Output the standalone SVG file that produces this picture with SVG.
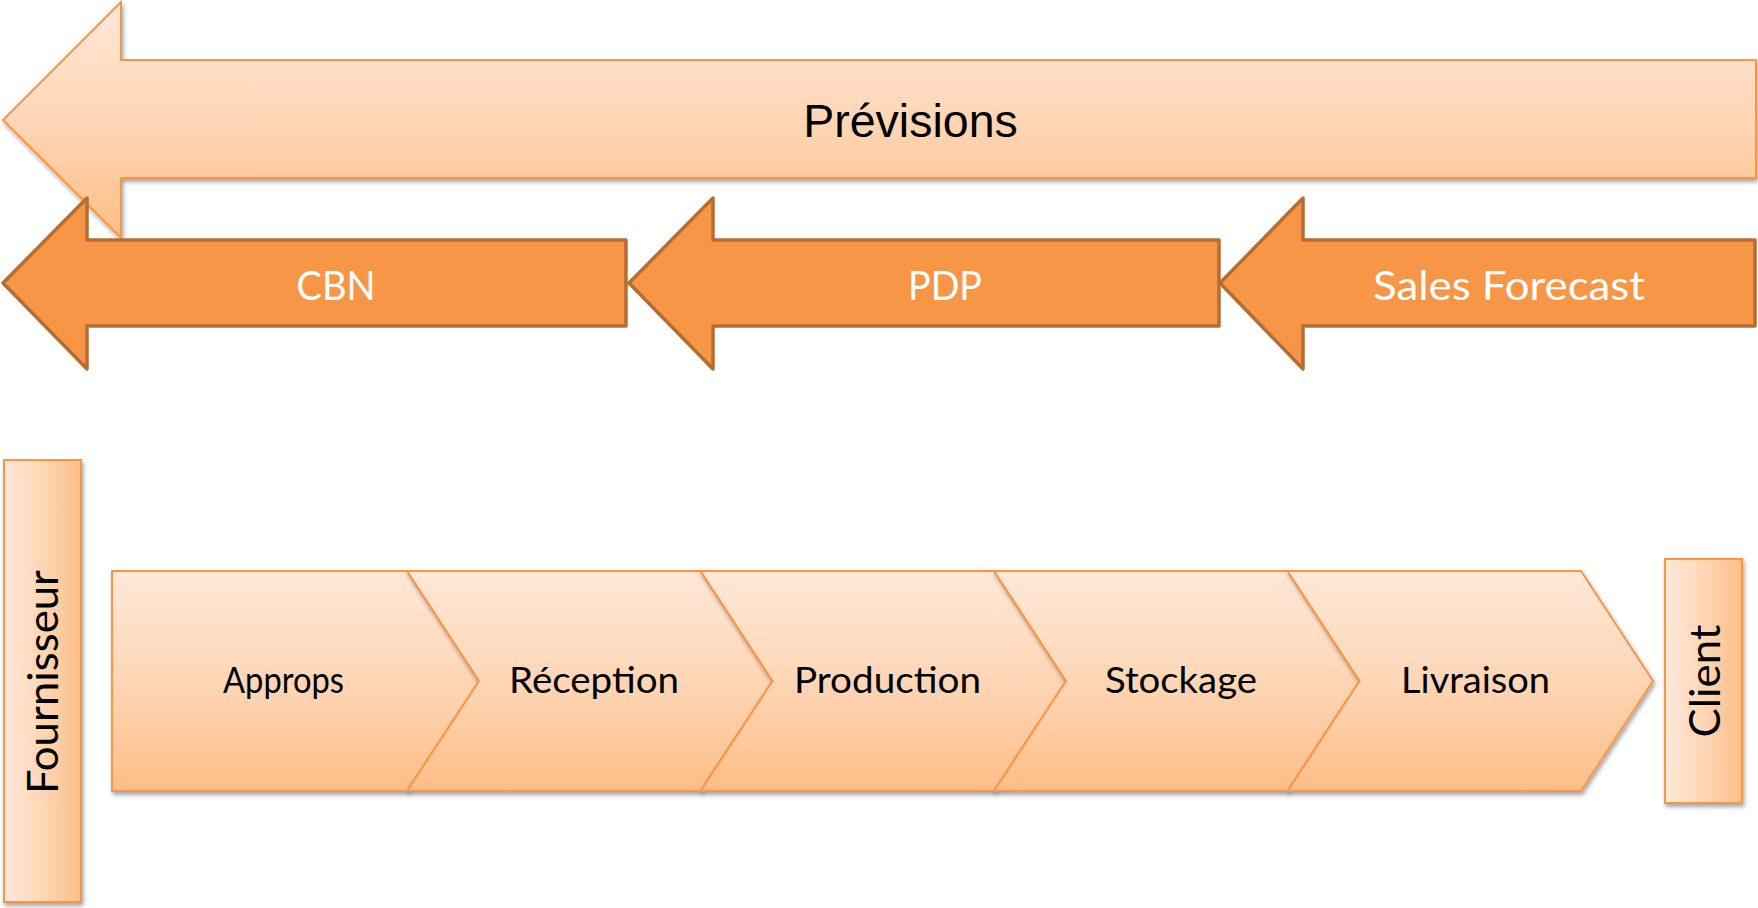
<svg xmlns="http://www.w3.org/2000/svg" width="1758" height="908" viewBox="0 0 1758 908">
<defs>
<linearGradient id="gv" x1="0" y1="0" x2="0" y2="1">
<stop offset="0" stop-color="#FFE8D7"/>
<stop offset="0.5" stop-color="#FED6B6"/>
<stop offset="1" stop-color="#FDBE86"/>
</linearGradient>
<linearGradient id="gh" x1="0" y1="0" x2="1" y2="0">
<stop offset="0" stop-color="#FFE8D7"/>
<stop offset="0.5" stop-color="#FED6B6"/>
<stop offset="1" stop-color="#FDBE86"/>
</linearGradient>
<filter id="sh" x="-5%" y="-5%" width="115%" height="120%">
<feDropShadow dx="1.5" dy="3" stdDeviation="2" flood-color="#000" flood-opacity="0.35"/>
</filter>
</defs>
<style>
.light{stroke:#F79646;stroke-width:2;stroke-linejoin:miter;filter:url(#sh)}
.dark{fill:#F79646;stroke:#B66D31;stroke-width:3.5;stroke-linejoin:round}
.wt{font-family:Lato,"Open Sans",sans-serif;fill:#FFFFFF;font-size:41px;text-anchor:middle}
.bt{font-family:Lato,"Open Sans",sans-serif;fill:#000000;font-size:36px;text-anchor:middle}
.vt{font-family:Lato,"Open Sans",sans-serif;fill:#000000;font-size:43px;text-anchor:middle}
</style>

<g id="previsions">
<polygon class="light" fill="url(#gv)" points="3,120 121,2 121,60 1756,60 1756,178 121,178 121,238"/>
<text x="910.5" y="137" font-family="'Liberation Sans',Arial,sans-serif" font-size="46.5" text-anchor="middle" fill="#000">Prévisions</text>
</g>

<g id="cbn">
<polygon class="dark" points="3,283 87,198 87,240 626,240 626,326 87,326 87,369"/>
<text class="wt" x="336" y="300" textLength="79" lengthAdjust="spacingAndGlyphs">CBN</text>
</g>
<g id="pdp">
<polygon class="dark" points="629,283 713,198 713,240 1219,240 1219,326 713,326 713,369"/>
<text class="wt" x="945" y="300" textLength="74" lengthAdjust="spacingAndGlyphs">PDP</text>
</g>
<g id="sales-forecast">
<polygon class="dark" points="1220,283 1303,198 1303,240 1755,240 1755,326 1303,326 1303,369"/>
<text class="wt" x="1509" y="300" textLength="272" lengthAdjust="spacingAndGlyphs">Sales Forecast</text>
</g>

<g id="fournisseur">
<rect class="light" fill="url(#gh)" x="4" y="460" width="77" height="442"/>
<text class="vt" transform="translate(58,682) rotate(-90)" textLength="224" lengthAdjust="spacingAndGlyphs">Fournisseur</text>
</g>

<g id="approps">
<polygon class="light" fill="url(#gv)" points="112,571 407,571 479,681 407,791 112,791"/>
<text class="bt" x="283.5" y="693" textLength="121" lengthAdjust="spacingAndGlyphs">Approps</text>
</g>
<g id="reception">
<polygon class="light" fill="url(#gv)" points="407,571 700.5,571 772.5,681 700.5,791 407,791 479,681"/>
<text class="bt" x="594" y="693" textLength="170" lengthAdjust="spacingAndGlyphs">Réception</text>
</g>
<g id="production">
<polygon class="light" fill="url(#gv)" points="700.5,571 994,571 1066,681 994,791 700.5,791 772.5,681"/>
<text class="bt" x="887.5" y="693" textLength="187" lengthAdjust="spacingAndGlyphs">Production</text>
</g>
<g id="stockage">
<polygon class="light" fill="url(#gv)" points="994,571 1287.5,571 1359.5,681 1287.5,791 994,791 1066,681"/>
<text class="bt" x="1181" y="693" textLength="152" lengthAdjust="spacingAndGlyphs">Stockage</text>
</g>
<g id="livraison">
<polygon class="light" fill="url(#gv)" points="1287.5,571 1581,571 1653,681 1581,791 1287.5,791 1359.5,681"/>
<text class="bt" x="1475.5" y="693" textLength="149" lengthAdjust="spacingAndGlyphs">Livraison</text>
</g>

<g id="client">
<rect class="light" fill="url(#gh)" x="1665" y="559" width="77" height="244"/>
<text class="vt" transform="translate(1720,681) rotate(-90)" textLength="113" lengthAdjust="spacingAndGlyphs">Client</text>
</g>

<g id="connectors"></g>
</svg>
